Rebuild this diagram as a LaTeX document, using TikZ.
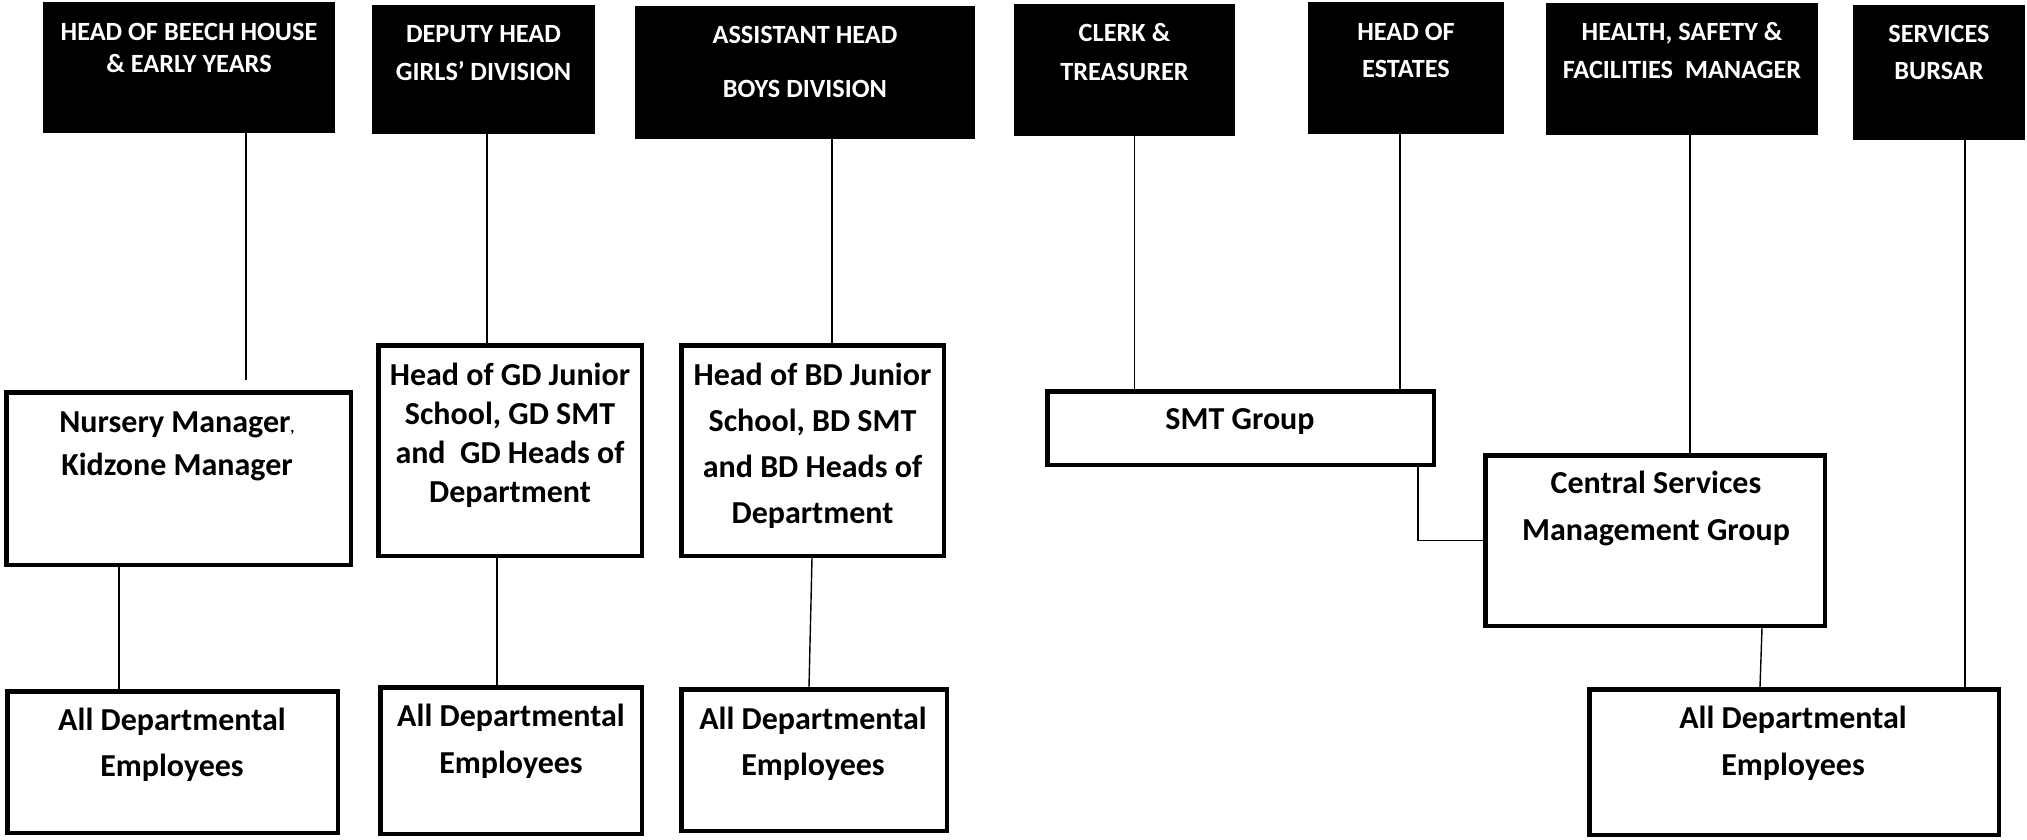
\documentclass[tikz,border=0pt]{standalone}
\usepackage{fontspec}
\setmainfont{Carlito}
\begin{document}
\begin{tikzpicture}[x=1pt,y=-1pt,
  headbox/.style={fill=black, inner sep=0pt},
  wbox/.style={draw=black, line width=4.5pt, fill=white, inner sep=0pt},
  htext/.style={text=white, align=center, inner sep=0pt, font=\bfseries\fontsize{26.3}{#1}\selectfont},
  btext/.style={align=center, inner sep=0pt, font=\bfseries\fontsize{32}{#1}\selectfont},
  conn/.style={line width=1.4pt}]
\fill[white] (0,0) rectangle (2027,839);
\useasboundingbox (0,0) rectangle (2027,839);

% header boxes
\node[headbox, minimum width=292pt, minimum height=131pt] (h1) at (189,67.5) {};
\node[headbox, minimum width=223pt, minimum height=129pt] (h2) at (483.5,69.5) {};
\node[headbox, minimum width=340pt, minimum height=133pt] (h3) at (805,72.5) {};
\node[headbox, minimum width=221pt, minimum height=132pt] (h4) at (1124.5,70) {};
\node[headbox, minimum width=196pt, minimum height=132pt] (h5) at (1406,68) {};
\node[headbox, minimum width=272pt, minimum height=132pt] (h6) at (1682,69) {};
\node[headbox, minimum width=172pt, minimum height=135pt] (h7) at (1939,72.5) {};

\node[htext=32] (t1) at (189,48) {HEAD OF BEECH HOUSE\\\& EARLY YEARS};
\node[htext=38] (t2) at (483.5,53.5) {DEPUTY HEAD\\GIRLS’ DIVISION};
\node[htext=54] (t3) at (805,62) {ASSISTANT HEAD\\BOYS DIVISION};
\node[htext=39] (t4) at (1124.5,52.5) {CLERK \&\\TREASURER};
\node[htext=37] (t5) at (1406,50.5) {HEAD OF\\ESTATES};
\node[htext=38] (t6) at (1682,51) {HEALTH, SAFETY \&\\FACILITIES~ MANAGER};
\node[htext=37] (t7) at (1939,52.5) {SERVICES\\BURSAR};

% white boxes
\node[wbox, minimum width=344.5pt, minimum height=172.5pt] (nur) at (178.5,478.5) {};
\node[wbox, minimum width=263.5pt, minimum height=210.5pt] (gd) at (510,450.5) {};
\node[wbox, minimum width=262.5pt, minimum height=210.5pt] (bd) at (812.5,450.5) {};
\node[wbox, minimum width=330.5pt, minimum height=141.5pt] (ad1) at (172.5,762) {};
\node[wbox, minimum width=261.5pt, minimum height=146.5pt] (ad2) at (511,760.5) {};
\node[wbox, minimum width=265.5pt, minimum height=141.5pt] (ad3) at (814,760) {};
\node[wbox, minimum width=386.5pt, minimum height=73.5pt] (smt) at (1240.5,428) {};
\node[wbox, minimum width=339.5pt, minimum height=170.5pt] (cen) at (1655,540.5) {};
\node[wbox, minimum width=409.5pt, minimum height=145.5pt] (ad4) at (1794,762) {};

\node[btext=43] (tn) at (177,446.5) {Nursery Manager{\fontsize{16}{16}\selectfont,}\\Kidzone Manager};
\node[btext=39] (tg) at (510,435) {Head of GD Junior\\School, GD SMT\\and~ GD Heads of\\Department};
\node[btext=46] (tb) at (812.5,446) {Head of BD Junior\\School, BD SMT\\and BD Heads of\\Department};
\node[btext=46] (ta1) at (172,745) {All Departmental\\Employees};
\node[btext=47] (ta2) at (511,741.5) {All Departmental\\Employees};
\node[btext=46] (ta3) at (813,744) {All Departmental\\Employees};
\node[btext=40] (ts) at (1240,422) {SMT Group};
\node[btext=47] (tc) at (1656,508.5) {Central Services\\Management Group};
\node[btext=47] (ta4) at (1793,743.5) {All Departmental\\Employees};

% connector columns
\coordinate (c1) at (246,0);
\coordinate (e1) at (246,380);
\coordinate (c2) at (487,0);
\coordinate (c3) at (832,0);
\coordinate (c4) at (119,0);
\coordinate (c5) at (497,0);
\coordinate (c6a) at (812,0);
\coordinate (c6b) at (809,0);
\coordinate (c7) at (1134.5,0);
\coordinate (c8) at (1400,0);
\coordinate (c9) at (1690,0);
\coordinate (c10) at (1965,0);
\coordinate (c11) at (1418,0);
\coordinate (c12a) at (1762,0);
\coordinate (c12b) at (1760,0);

\draw[conn] (c1 |- h1.south) -- (e1);
\draw[conn] (c2 |- h2.south) -- (c2 |- gd.north);
\draw[conn] (c3 |- h3.south) -- (c3 |- bd.north);
\draw[conn] (c4 |- nur.south) -- (c4 |- ad1.north);
\draw[conn] (c5 |- gd.south) -- (c5 |- ad2.north);
\draw[conn] (c6a |- bd.south) -- (c6b |- ad3.north);
\draw[conn] (c7 |- h4.south) -- (c7 |- smt.north);
\draw[conn] (c8 |- h5.south) -- (c8 |- smt.north);
\draw[conn] (c9 |- h6.south) -- (c9 |- cen.north);
\draw[conn] (c10 |- h7.south) -- (c10 |- ad4.north);
\draw[conn] (c11 |- smt.south) |- (cen.west);
\draw[conn] (c12a |- cen.south) -- (c12b |- ad4.north);
\end{tikzpicture}
\end{document}
